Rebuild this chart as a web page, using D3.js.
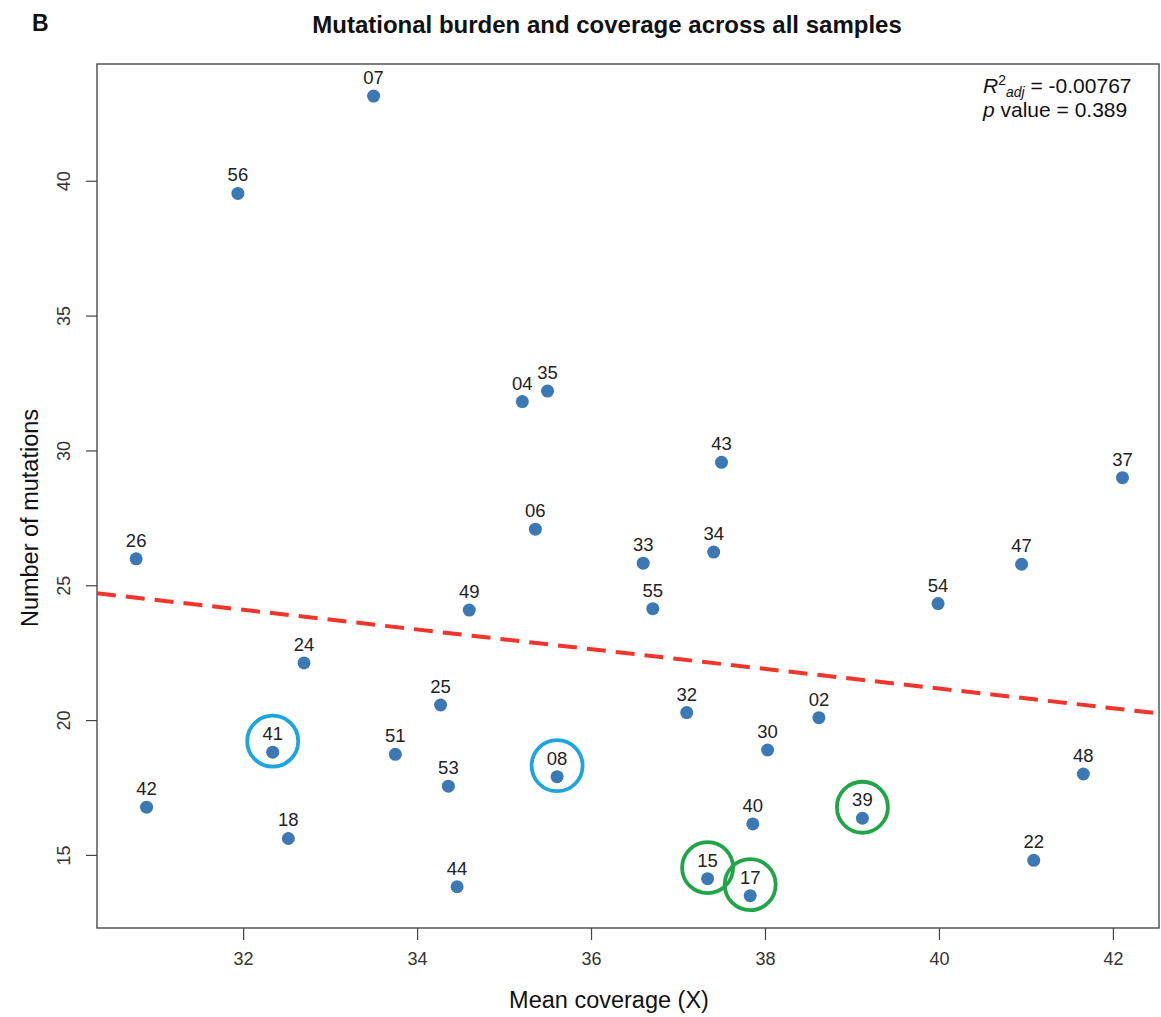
<!DOCTYPE html>
<html>
<head>
<meta charset="utf-8">
<script src="https://cdn.jsdelivr.net/npm/d3@7"></script>
<style>
  body { margin: 0; background: #fff; }
  svg { font-family: "Liberation Sans", Arial, sans-serif; }
</style>
</head>
<body>
<div id="chart"></div>
<script>
// sample data
const sampleIds = ["07","56","04","35","43","37","06","26","33","34","47","54","49","55","24","25","32","02","30","41","51","08","48","53","42","39","40","18","22","44","15","17"];
const coverage  = [33.50,31.94,35.21,35.50,37.50,42.11,35.36,30.77,36.60,37.41,40.95,39.99,34.60,36.71,32.70,34.27,37.10,38.62,38.03,32.34,33.75,35.61,41.66,34.36,30.89,39.12,37.86,32.52,41.09,34.46,37.34,37.83];
const mutations = [43.14,39.53,31.81,32.20,29.56,28.99,27.08,25.98,25.82,26.23,25.78,24.32,24.08,24.13,22.12,20.56,20.28,20.09,18.89,18.81,18.73,17.90,18.00,17.55,16.77,16.36,16.15,15.61,14.80,13.82,14.12,13.49];

const blueIds = ["41","08"];
const greenIds = ["15","17","39"];

const xTicks = [32,34,36,38,40,42];
const yTicks = [15,20,25,30,35,40];

// fitted line
const fitIntercept = 35.77;
const fitSlope = -0.365;

const W = 1161, H = 1017;
const margin = {top: 64, right: 2, bottom: 89, left: 97};

const svg = d3.select("#chart").append("svg")
    .attr("width", W)
    .attr("height", H);

const x = d3.scaleLinear().domain([30.32, 42.53]).range([margin.left, W - margin.right]);
const y = d3.scaleLinear().domain([12.29, 44.33]).range([H - margin.bottom, margin.top]);

const points = sampleIds.map((id, i) => ({id: id, cov: coverage[i], mut: mutations[i]}));

// panel letter and title
svg.append("text").attr("x", 32).attr("y", 31)
    .attr("font-size", 23).attr("font-weight", "bold").attr("fill", "#111")
    .text("B");
svg.append("text").attr("x", 607).attr("y", 33)
    .attr("text-anchor", "middle").attr("font-size", 24).attr("font-weight", "bold").attr("fill", "#111")
    .text("Mutational burden and coverage across all samples");

// plot box
svg.append("rect")
    .attr("x", margin.left).attr("y", margin.top)
    .attr("width", W - margin.right - margin.left)
    .attr("height", H - margin.bottom - margin.top)
    .attr("fill", "none").attr("stroke", "#555").attr("stroke-width", 1.5);

// axes
const xAxis = d3.axisBottom(x).tickValues(xTicks).tickSize(12).tickPadding(12);
const gx = svg.append("g").attr("transform", `translate(0,${H - margin.bottom})`).call(xAxis);
gx.select(".domain").remove();
gx.selectAll("line").attr("stroke", "#444").attr("stroke-width", 1.2);
gx.selectAll("text").attr("font-size", 18).attr("fill", "#333")
    .attr("font-family", "Liberation Sans, Arial, sans-serif");

const yAxis = d3.axisLeft(y).tickValues(yTicks).tickSize(11).tickFormat(d3.format("d"));
const gy = svg.append("g").attr("transform", `translate(${margin.left},0)`).call(yAxis);
gy.select(".domain").remove();
gy.selectAll("line").attr("stroke", "#444").attr("stroke-width", 1.2);
gy.selectAll("text")
    .attr("font-size", 18).attr("fill", "#333")
    .attr("font-family", "Liberation Sans, Arial, sans-serif")
    .attr("x", 0).attr("dy", null)
    .attr("text-anchor", "middle")
    .attr("transform", "translate(-32,0) rotate(-90)")
    .attr("dominant-baseline", "middle");

// axis titles
svg.append("text").attr("x", 609).attr("y", 1008)
    .attr("text-anchor", "middle").attr("font-size", 23.5).attr("fill", "#111")
    .text("Mean coverage (X)");
svg.append("text")
    .attr("transform", "translate(32,518) rotate(-90)")
    .attr("text-anchor", "middle").attr("dominant-baseline", "middle")
    .attr("font-size", 23.5).attr("fill", "#111")
    .text("Number of mutations");

// regression line
svg.append("clipPath").attr("id", "plotclip").append("rect")
    .attr("x", margin.left).attr("y", margin.top)
    .attr("width", W - margin.right - margin.left)
    .attr("height", H - margin.bottom - margin.top);
const xd = x.domain();
svg.append("line")
    .attr("clip-path", "url(#plotclip)")
    .attr("x1", x(xd[0])).attr("y1", y(fitIntercept + fitSlope * xd[0]))
    .attr("x2", x(xd[1])).attr("y2", y(fitIntercept + fitSlope * xd[1]))
    .attr("stroke", "#f0362a").attr("stroke-width", 4)
    .attr("stroke-dasharray", "19,10");

// points
svg.append("g").selectAll("circle")
    .data(points).enter().append("circle")
    .attr("cx", d => x(d.cov)).attr("cy", d => y(d.mut))
    .attr("r", 6.5).attr("fill", "#3c78b4");

// labels
svg.append("g").selectAll("text")
    .data(points).enter().append("text")
    .attr("x", d => x(d.cov)).attr("y", d => y(d.mut) - 12)
    .attr("text-anchor", "middle").attr("font-size", 18.5).attr("fill", "#222")
    .text(d => d.id);

// highlight rings
const rings = points.filter(d => blueIds.includes(d.id) || greenIds.includes(d.id));
svg.append("g").selectAll("circle")
    .data(rings).enter().append("circle")
    .attr("cx", d => x(d.cov)).attr("cy", d => y(d.mut) - 11)
    .attr("r", 25.5).attr("fill", "none")
    .attr("stroke", d => blueIds.includes(d.id) ? "#1ea5de" : "#22a548")
    .attr("stroke-width", 3.8);

// stats annotation
const ann = svg.append("g").attr("font-size", 21).attr("fill", "#111");
const t1 = ann.append("text").attr("x", 983).attr("y", 93);
t1.append("tspan").attr("font-style", "italic").text("R");
t1.append("tspan").attr("font-size", 14).attr("dy", -8).text("2");
t1.append("tspan").attr("font-size", 14).attr("font-style", "italic").attr("dy", 12).text("adj");
t1.append("tspan").attr("dy", -4).text(" = -0.00767");
const t2 = ann.append("text").attr("x", 983).attr("y", 117);
t2.append("tspan").attr("font-style", "italic").text("p");
t2.append("tspan").text(" value = 0.389");
</script>
</body>
</html>
